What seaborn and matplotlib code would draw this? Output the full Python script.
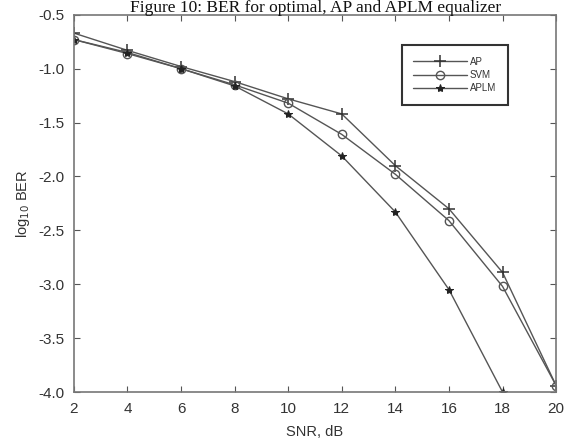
import matplotlib
matplotlib.use("Agg")
import matplotlib.pyplot as plt
import seaborn as sns
import pandas as pd

snr = [2, 4, 6, 8, 10, 12, 14, 16, 18, 20]
ap = [-0.67, -0.83, -0.98, -1.12, -1.28, -1.42, -1.90, -2.30, -2.89, -3.94]
svm = [-0.73, -0.86, -1.00, -1.15, -1.32, -1.61, -1.98, -2.41, -3.02, -3.94]
aplm_snr = [2, 4, 6, 8, 10, 12, 14, 16, 18]
aplm = [-0.73, -0.85, -1.00, -1.16, -1.42, -1.81, -2.33, -3.05, -4.00]

sns.set_theme(style="ticks")
plt.rcParams['font.family'] = ['Liberation Sans', 'DejaVu Sans']

fig = plt.figure(figsize=(5.64, 4.48), dpi=100)
ax = fig.add_axes([0.131, 0.125, 0.855, 0.842])

lc = "#555555"
df_ap = pd.DataFrame({"snr": snr, "v": ap})
df_svm = pd.DataFrame({"snr": snr, "v": svm})
df_aplm = pd.DataFrame({"snr": aplm_snr, "v": aplm})

sns.lineplot(data=df_ap, x="snr", y="v", ax=ax, color=lc, lw=1.0, marker="+",
             markersize=8, markeredgewidth=1.1, markeredgecolor="#333333", label="AP")
sns.lineplot(data=df_svm, x="snr", y="v", ax=ax, color=lc, lw=1.0, marker="o",
             markersize=6, markerfacecolor="none", markeredgecolor="#555555",
             markeredgewidth=1.0, label="SVM")
sns.lineplot(data=df_aplm, x="snr", y="v", ax=ax, color=lc, lw=1.0, marker="*",
             markersize=6, markerfacecolor="#222222", markeredgecolor="#222222", label="APLM")

ax.set_xlim(2, 20)
ax.set_ylim(-4.0, -0.5)
ax.set_xticks([2, 4, 6, 8, 10, 12, 14, 16, 18, 20])
ax.set_yticks([-4.0, -3.5, -3.0, -2.5, -2.0, -1.5, -1.0, -0.5])
ax.set_yticklabels(["-4.0", "-3.5", "-3.0", "-2.5", "-2.0", "-1.5", "-1.0", "-0.5"])
ax.tick_params(direction="in", top=True, right=True, length=4, width=0.8,
               color="#555555", labelsize=11, labelcolor="#333333", pad=7)
for s in ax.spines.values():
    s.set_color("#777777")
    s.set_linewidth(1.2)

ax.set_xlabel("SNR, dB", fontsize=10.5, color="#333333", labelpad=7)
ax.set_ylabel("log$_{10}$ BER", fontsize=10.5, color="#333333", labelpad=4)

leg = ax.legend(loc="upper left", bbox_to_anchor=(0.68, 0.92), fontsize=7,
                frameon=True, fancybox=False, handlelength=5.5, borderpad=1.2,
                labelspacing=0.35, handletextpad=0.3, borderaxespad=0)
leg.get_frame().set_edgecolor("black")
leg.get_frame().set_linewidth(1.5)
for t in leg.get_texts():
    t.set_color("#333333")

fig.text(0.56, 0.999, "Figure 10: BER for optimal, AP and APLM equalizer",
         ha="center", va="top", fontsize=12.5, family=["Liberation Serif", "DejaVu Serif"],
         color="#111111")

fig.savefig("out.png", dpi=100)
